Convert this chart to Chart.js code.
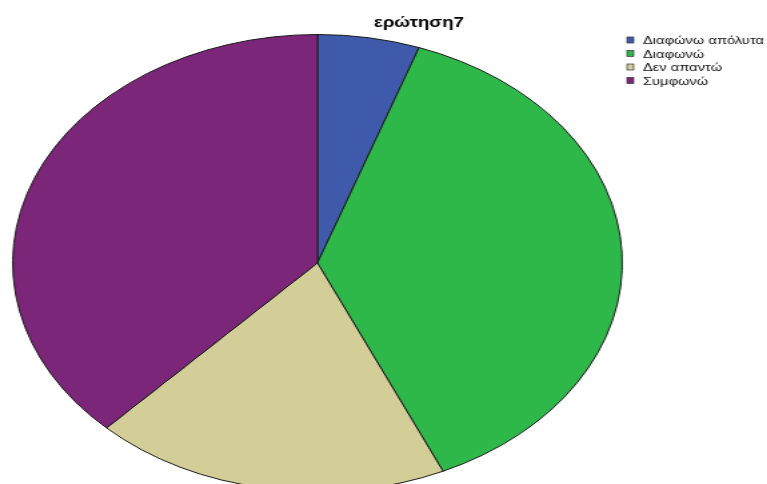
<!DOCTYPE html>
<html>
<head>
<meta charset="utf-8">
<script src="https://cdn.jsdelivr.net/npm/chart.js@4"></script>
<style>
    html, body { margin: 0; padding: 0; background: #ffffff; overflow: hidden; }
    #wrap { width: 767px; height: 484px; overflow: hidden; position: relative; }
    /* the reference is stretched sideways, so the canvas is drawn narrow and widened here */
    #chart { display: block; transform: scaleX(1.334); transform-origin: 0 0; }
</style>
</head>
<body>
<div id="wrap">
    <canvas id="chart" width="575" height="492"></canvas>
</div>
<script>
// chart data
const chartTitle = 'ερώτηση7';
const categories = ['Διαφώνω απόλυτα', 'Διαφωνώ', 'Δεν απαντώ', 'Συμφωνώ'];
const counts = [2, 14, 7, 14];
const sliceColors = ['#3f59ab', '#2eb84a', '#d3ce98', '#7b2679'];

const FONT = '"Liberation Sans", Arial, sans-serif';

/**
 * Title and legend, drawn on the canvas so they stretch with the pie
 */
const spssLabels = {
    id: 'spssLabels',
    afterDraw(chart) {
        const ctx = chart.ctx;
        ctx.save();

        // title
        ctx.fillStyle = '#000000';
        ctx.font = 'bold 14px ' + FONT;
        ctx.textAlign = 'center';
        ctx.textBaseline = 'alphabetic';
        ctx.fillText(chartTitle, 314, 27);

        // legend
        ctx.font = '11px ' + FONT;
        ctx.textAlign = 'left';
        categories.forEach((label, i) => {
            const y = 37 + i * 13.5;
            ctx.fillStyle = sliceColors[i];
            ctx.fillRect(470, y, 5, 6);
            ctx.strokeStyle = '#333333';
            ctx.lineWidth = 0.7;
            ctx.strokeRect(470, y, 5, 6);
            ctx.fillStyle = '#111111';
            ctx.fillText(label, 482, y + 7);
        });

        ctx.restore();
    }
};

const chart = new Chart(document.getElementById('chart'), {
    type: 'pie',
    data: {
        labels: categories,
        datasets: [{
            data: counts,
            backgroundColor: sliceColors,
            borderColor: '#1a1a1a',
            borderWidth: 1
        }]
    },
    options: {
        responsive: false,
        maintainAspectRatio: false,
        devicePixelRatio: 1,
        animation: false,
        layout: {
            padding: { left: 9, right: 108, top: 34, bottom: 0 }
        },
        plugins: {
            legend: { display: false },
            title: { display: false },
            tooltip: { enabled: false }
        }
    },
    plugins: [spssLabels]
});
</script>
</body>
</html>
